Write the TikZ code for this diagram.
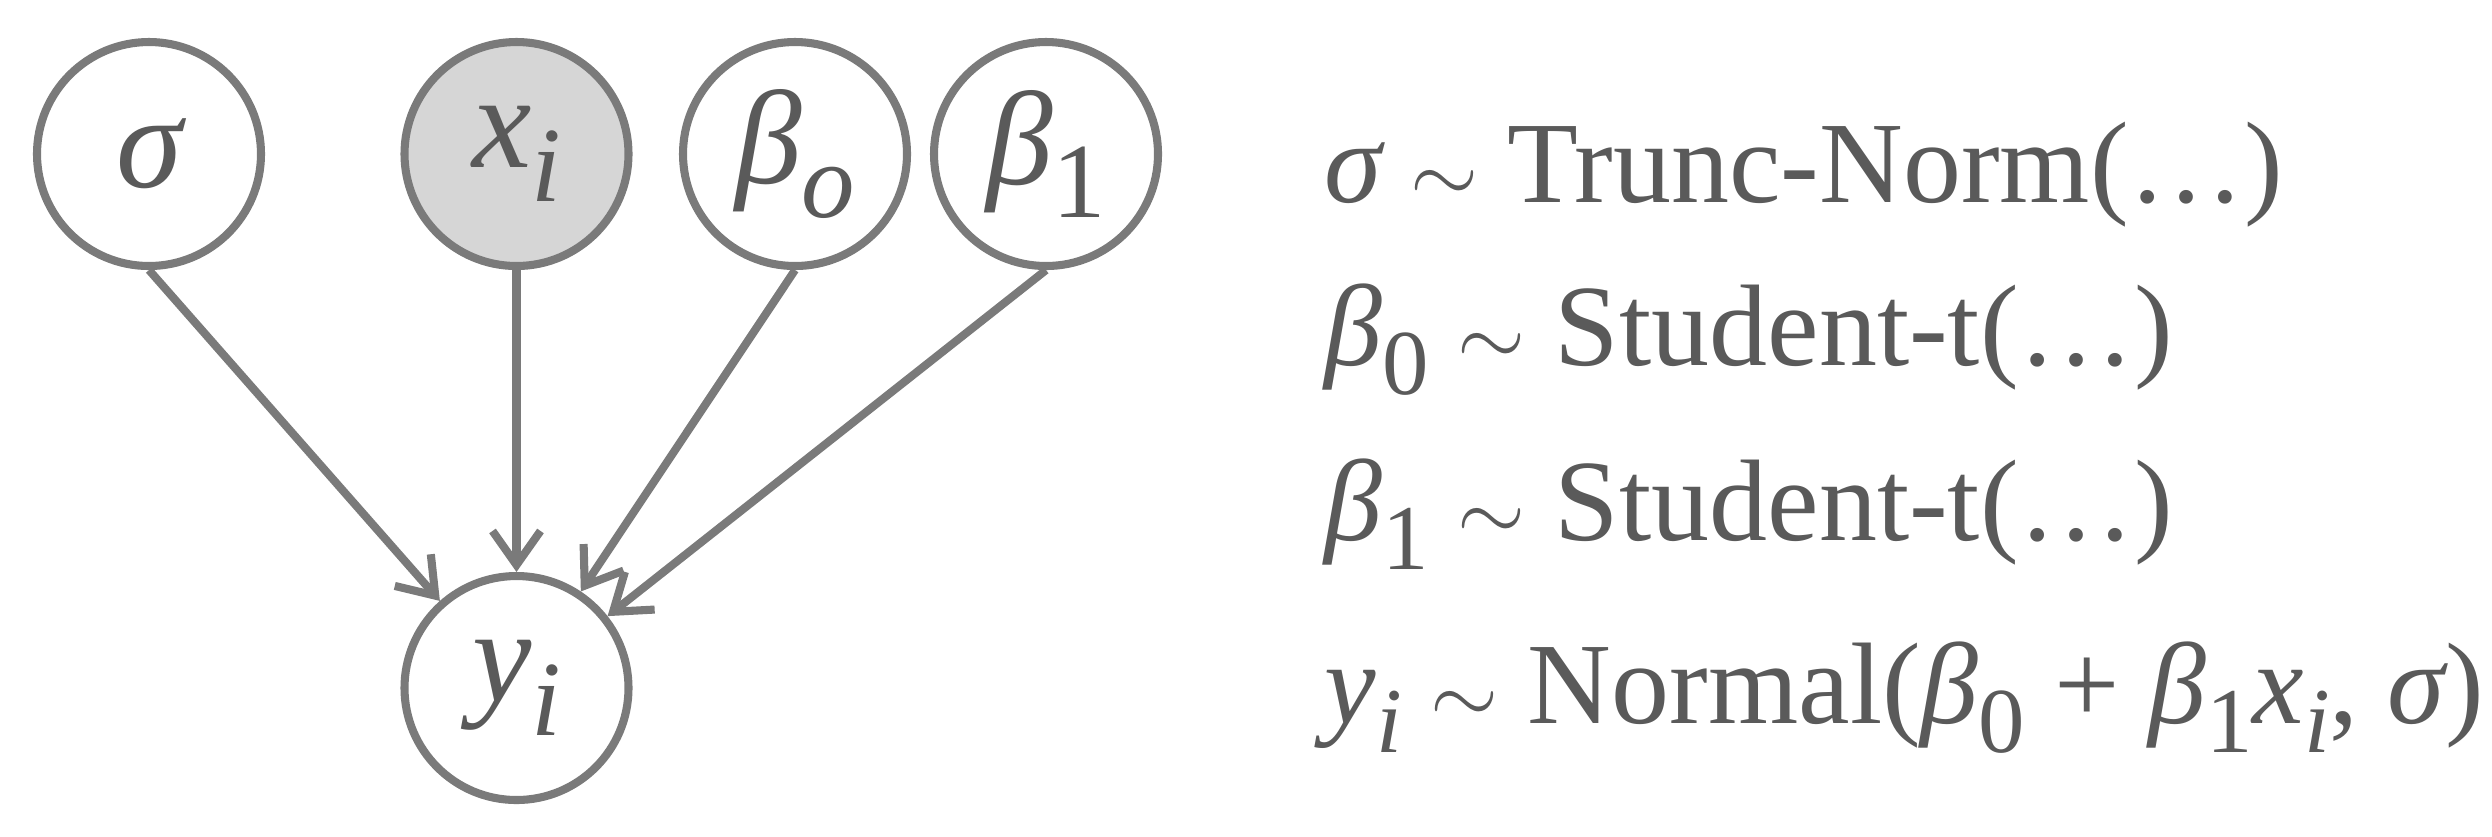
\documentclass[tikz,border=0pt]{standalone}
\usepackage{fontspec}
\setmainfont{Liberation Serif}
\usetikzlibrary{arrows.meta}
\definecolor{edgegray}{HTML}{7A7A7A}
\definecolor{textgray}{HTML}{5A5A5A}
\definecolor{obsgray}{HTML}{D6D6D6}
\newcommand{\gk}[1]{{\itshape #1}}
\newcommand{\lowsub}[1]{\raisebox{-0.25em}{\scalebox{0.8}{#1}}}
\tikzset{
    var/.style={circle, draw=edgegray, line width=2.3pt, minimum size=2.24cm, inner sep=0pt, text=textgray, fill=white, font=\fontsize{38}{40}\selectfont},
    obs/.style={var, fill=obsgray},
    dep/.style={draw=edgegray, line width=2.3pt, -{Straight Barb[length=0.34cm, width=0.48cm, line width=2.3pt]}},
    eqline/.style={anchor=base west, text=textgray, inner sep=0pt}
}

\begin{document}
\begin{tikzpicture}
    \fontsize{33}{38}\selectfont
    \useasboundingbox (0, 0) rectangle (24.92, -8.36);
\node[var] (sigma) at (1.49, -1.54){\gk{σ}};
\node[obs] (xi) at (5.165, -1.54){\gk{x\lowsub{i}}};
\node[var] (beta0) at (7.95, -1.54){\gk{β\lowsub{o}}};
\node[var] (beta1) at (10.46, -1.54){\gk{β}\lowsub{1}};
\node[var] (yi) at (5.165, -6.88){\gk{y\lowsub{i}}};
\node[eqline] (line0) at (13.24, -2.02){\gk{σ} $\sim$ Trunc-Norm(\ldots)};
\node[eqline] (line1) at (13.24, -3.65){\gk{β}\lowsub{0} $\sim$ Student-t(\ldots)};
\node[eqline] (line2) at (13.24, -5.40){\gk{β}\lowsub{1} $\sim$ Student-t(\ldots)};
\node[eqline] (line3) at (13.24, -7.23){\gk{y\lowsub{i}} $\sim$ Normal(\gk{β}\lowsub{0} + \gk{β}\lowsub{1}\gk{x\lowsub{i}}, \gk{σ})};
\draw[dep] (sigma.south) -- (yi);
\draw[dep] (xi.south) -- (yi);
\draw[dep] (beta0.south) -- (yi);
\draw[dep] (beta1.south) -- (yi);
\end{tikzpicture}
\end{document}
